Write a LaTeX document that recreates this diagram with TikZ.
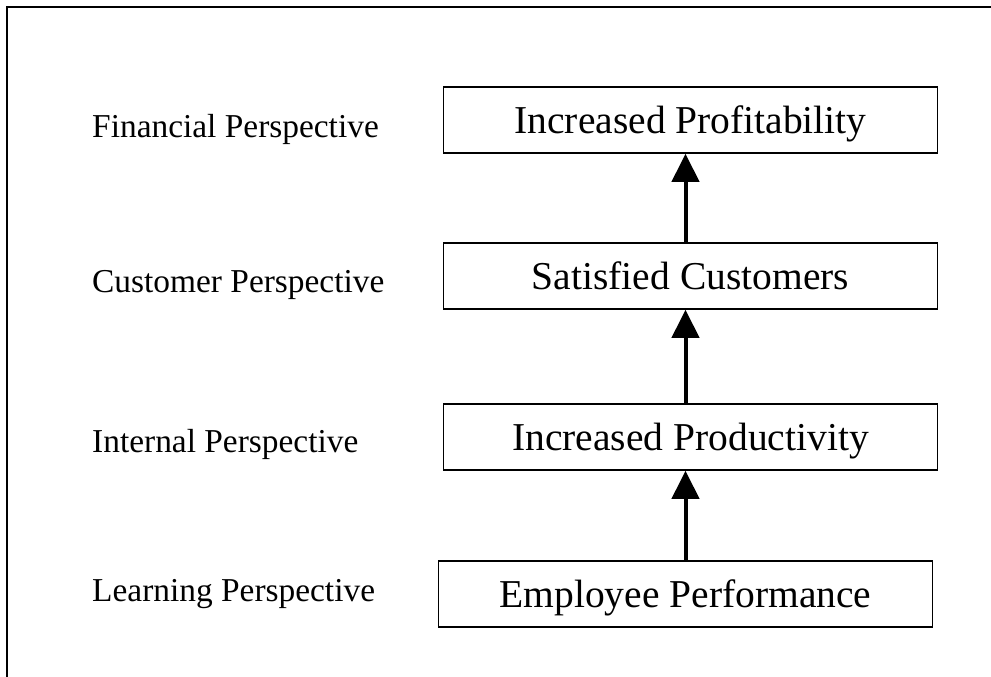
\documentclass[tikz,border=0pt]{standalone}
\usepackage{fontspec}
\setmainfont{Liberation Serif}
\usetikzlibrary{arrows.meta}
\begin{document}
\begin{tikzpicture}[x=1pt,y=-1pt,
  boxnode/.style={draw, line width=1.5pt, minimum width=494pt, minimum height=66pt,
    inner sep=0pt, text height=26pt, text depth=0pt, font=\fontsize{39.5}{42}\selectfont},
  lbl/.style={anchor=base west, inner sep=0pt, font=\fontsize{33.4}{35}\selectfont},
  uparrow/.style={line width=4pt, -{Triangle[width=27pt,length=28pt]}}]
\useasboundingbox (0,0) rectangle (991,677);
\fill[white] (0,0) rectangle (991,677);
% outer frame (partly cut off)
\draw[line width=2pt] (7,677) -- (7,7) -- (991,7);
% boxes
\node[boxnode] (b1) at (690.5,120) {Increased Profitability};
\node[boxnode] (b2) at (690.5,276) {Satisfied Customers};
\node[boxnode] (b3) at (690.5,437) {Increased Productivity};
\node[boxnode] (b4) at (685.5,594) {Employee Performance};
% labels
\node[lbl] (l1) at (92,137) {Financial Perspective};
\node[lbl] (l2) at (92,292) {Customer Perspective};
\node[lbl] (l3) at (92,452) {Internal Perspective};
\node[lbl] (l4) at (92,601) {Learning Perspective};
% arrows
\draw[uparrow] (b4.north) -- (b3.south -| b4.north);
\draw[uparrow] (b3.north -| b4.north) -- (b2.south -| b4.north);
\draw[uparrow] (b2.north -| b4.north) -- (b1.south -| b4.north);
\end{tikzpicture}
\end{document}
